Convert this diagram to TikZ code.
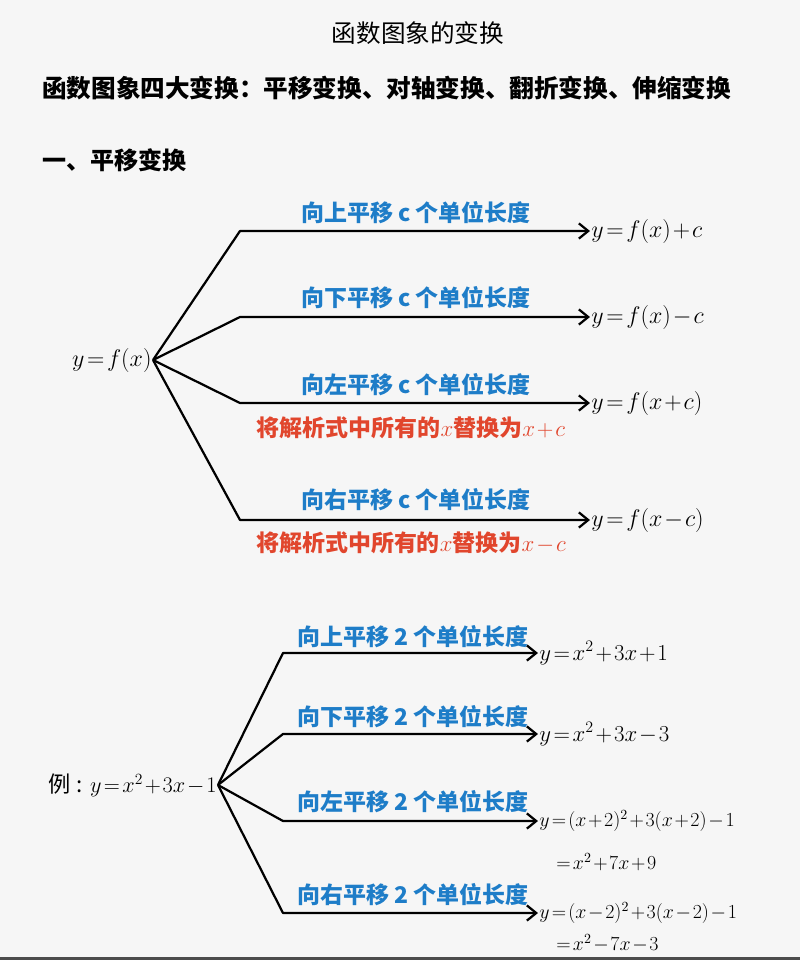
\documentclass[tikz,border=0pt]{standalone}
\usepackage{fix-cm}
\usepackage{fontspec}
\newfontfamily\cjk{Noto Sans CJK SC}
\usetikzlibrary{arrows.meta}
\definecolor{shiftblue}{RGB}{30,125,200}
\definecolor{hintred}{RGB}{225,70,45}
\definecolor{paper}{RGB}{246,246,246}
\thickmuskip=2mu plus 1mu
\medmuskip=1.5mu
\tikzset{
  branch/.style={line width=1.9pt, line join=round,
    -{Straight Barb[length=8pt, width=13pt, line width=1.9pt]}},
  result/.style={anchor=west, inner sep=1pt, font=\fontsize{20.5}{24}\selectfont},
  smallresult/.style={anchor=west, inner sep=1pt, font=\fontsize{17}{20}\selectfont},
  shiftlabel/.style={text=shiftblue, font=\cjk\bfseries\fontsize{19.6}{22}\selectfont},
  hintlabel/.style={text=hintred, font=\cjk\bfseries\fontsize{19.6}{22}\selectfont},
}
\begin{document}
\begin{tikzpicture}[x=0.03cm, y=-0.03cm]
        \fill[paper] (0,0) rectangle (800,960);
        \useasboundingbox (0,0) rectangle (800,960);
        \fill[black!70] (0,957) rectangle (800,960);
        % headings
        \node (title) at (418,33) {\cjk\fontsize{21}{24}\selectfont 函数图象的变换};
        \node[anchor=west, inner sep=0pt] (head) at (42,88)
            {\cjk\bfseries\fontsize{21}{24}\selectfont 函数图象四大变换：平移变换、对轴变换、翻折变换、伸缩变换};
        \node[anchor=west, inner sep=0pt] (sec) at (42,160)
            {\cjk\bfseries\fontsize{20.5}{24}\selectfont 一、平移变换};
        % general shift
        \node[anchor=east, inner sep=1pt, font=\fontsize{20.5}{24}\selectfont] (f0) at (153,360) {$y=f(x)$};
        \coordinate (b1) at (240,231);
        \coordinate (b2) at (240,317);
        \coordinate (b3) at (240,403);
        \coordinate (b4) at (240,520);
        \node[result] (r1) at (590,231) {$y=f(x)+c$};
        \node[result] (r2) at (590,317) {$y=f(x)-c$};
        \node[result] (r3) at (590,403) {$y=f(x+c)$};
        \node[result] (r4) at (590,520) {$y=f(x-c)$};
        \draw[branch] (f0.east) -- (b1) -- (r1.west);
        \draw[branch] (f0.east) -- (b2) -- (r2.west);
        \draw[branch] (f0.east) -- (b3) -- (r3.west);
        \draw[branch] (f0.east) -- (b4) -- (r4.west);
        \node[shiftlabel] (l1) at (416,213) {向上平移 c 个单位长度};
        \node[shiftlabel] (l2) at (416,298) {向下平移 c 个单位长度};
        \node[shiftlabel] (l3) at (416,385) {向左平移 c 个单位长度};
        \node[shiftlabel] (l4) at (416,500) {向右平移 c 个单位长度};
        \node[hintlabel] (h3) at (411,428) {将解析式中所有的$x$替换为$x+c$};
        \node[hintlabel] (h4) at (411,543) {将解析式中所有的$x$替换为$x-c$};
        % example
        \node[anchor=east, inner sep=1pt, font=\fontsize{19}{22}\selectfont] (e0) at (218,785)
            {\cjk 例\hspace{5pt}:\hspace{6pt}$y=x^2+3x-1$};
        \coordinate (b5) at (283,653);
        \coordinate (b6) at (283,734);
        \coordinate (b7) at (283,821);
        \coordinate (b8) at (283,913);
        \node[smallresult, font=\fontsize{19.5}{22}\selectfont] (r5) at (538,653) {$y=x^2+3x+1$};
        \node[smallresult, font=\fontsize{19.5}{22}\selectfont] (r6) at (538,734) {$y=x^2+3x-3$};
        \node[smallresult] (r7) at (538,821) {$y=(x+2)^2+3(x+2)-1$};
        \node[smallresult] (r8) at (538,913) {$y=(x-2)^2+3(x-2)-1$};
        \node[smallresult] (s7) at (555,862) {$=x^2+7x+9$};
        \node[smallresult] (s8) at (555,943) {$=x^2-7x-3$};
        \draw[branch] (e0.east) -- (b5) -- (r5.west);
        \draw[branch] (e0.east) -- (b6) -- (r6.west);
        \draw[branch] (e0.east) -- (b7) -- (r7.west);
        \draw[branch] (e0.east) -- (b8) -- (r8.west);
        \node[shiftlabel] (l5) at (413,637) {向上平移 2 个单位长度};
        \node[shiftlabel] (l6) at (413,717) {向下平移 2 个单位长度};
        \node[shiftlabel] (l7) at (413,802) {向左平移 2 个单位长度};
        \node[shiftlabel] (l8) at (413,895) {向右平移 2 个单位长度};
\end{tikzpicture}
\end{document}
